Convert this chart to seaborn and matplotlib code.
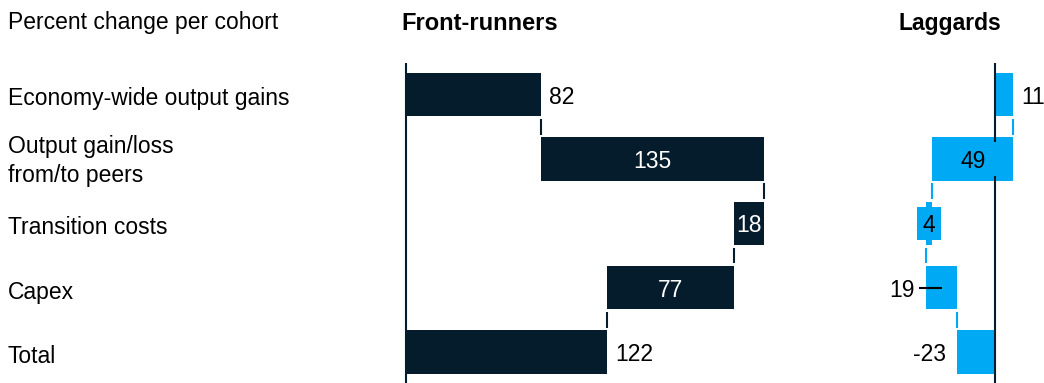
import matplotlib
matplotlib.use("Agg")
import matplotlib.pyplot as plt
import matplotlib.transforms as mtransforms
from matplotlib.patches import Rectangle
import seaborn as sns
import pandas as pd

# ---- data -------------------------------------------------------------
categories = ["Economy-wide output gains", "Output gain/loss\nfrom/to peers",
              "Transition costs", "Capex", "Total"]
front_runners = [82, 135, -18, -77, 122]      # last entry is the total
laggards = [11, -49, -4, 19, -23]             # last entry is the total
front_labels = ["82", "135", "18", "77", "122"]
laggard_labels = ["11", "49", "4", "19", "-23"]

# ---- style ------------------------------------------------------------
DARK = "#051C2C"
CYAN = "#00A9F4"
sns.set_theme(style="white")
plt.rcParams["font.family"] = ["Liberation Sans", "DejaVu Sans"]
FS = 16.5

W_PX, H_PX = 1044, 383
PX_PER_UNIT = 1.65          # horizontal scale shared by both panels
ROW_PX = 64.4               # vertical distance between rows
ROW0_PX = 94.5              # centre of the first row
TOP_PX, BOT_PX = 63, 383
BAR_H = 0.675

fig = plt.figure(figsize=(W_PX / 100, H_PX / 100), dpi=100)


def make_axes(left_px, right_px, zero_px):
    ax = fig.add_axes([left_px / W_PX, 1 - BOT_PX / H_PX,
                       (right_px - left_px) / W_PX, (BOT_PX - TOP_PX) / H_PX])
    ax.set_xlim((left_px - zero_px) / PX_PER_UNIT, (right_px - zero_px) / PX_PER_UNIT)
    return ax


def waterfall(ax, values, labels, color, inside_color, placement):
    starts, ends = [], []
    run = 0
    for v in values[:-1]:
        starts.append(run)
        run += v
        ends.append(run)
    starts.append(0)
    ends.append(values[-1])

    lefts = [min(s, e) for s, e in zip(starts, ends)]
    widths = [abs(e - s) for s, e in zip(starts, ends)]
    df = pd.DataFrame({"category": categories, "width": widths})
    sns.barplot(data=df, x="width", y="category", orient="h", color=color,
                saturation=1, width=BAR_H, linewidth=0, ax=ax, zorder=1)
    for patch, left in zip(ax.patches, lefts):
        patch.set_x(left)

    ax.set_ylim(4 + (BOT_PX - ROW0_PX - 4 * ROW_PX) / ROW_PX,
                (TOP_PX - ROW0_PX) / ROW_PX)
    ax.axvline(0, color=DARK, lw=1.5, zorder=2)

    # connectors between consecutive bars
    for i in range(len(values) - 1):
        x = ends[i]
        ax.plot([x, x], [i + BAR_H / 2 + 0.04, i + 1 - BAR_H / 2 - 0.04],
                color=color, lw=1.5, zorder=2, solid_capstyle="butt")

    gap = 8 / PX_PER_UNIT
    min_box = 14.0
    for i, (lab, pos) in enumerate(zip(labels, placement)):
        lo, hi = lefts[i], lefts[i] + widths[i]
        if pos == "inside":
            mid = (lo + hi) / 2
            bw = max(widths[i], min_box)
            ax.add_patch(Rectangle((mid - bw / 2, i - 0.26), bw, 0.52,
                                   facecolor=color, edgecolor="none", zorder=3))
            ax.text(mid, i, lab, ha="center", va="center_baseline",
                    color=inside_color, fontsize=FS, zorder=4)
        elif pos == "right":
            ax.text(hi + gap, i, lab, ha="left", va="center_baseline",
                    color="black", fontsize=FS)
        elif pos == "left":
            ax.text(lo - gap * 1.35, i, lab, ha="right", va="center_baseline",
                    color="black", fontsize=FS)
        elif pos == "leader":
            x0 = lo - 7 / PX_PER_UNIT
            ax.plot([x0, lo + 16 / PX_PER_UNIT], [i, i], color="black",
                    lw=1.5, zorder=3, solid_capstyle="butt")
            ax.text(x0 - 4 / PX_PER_UNIT, i, lab, ha="right", va="center_baseline",
                    color="black", fontsize=FS)

    ax.set_xlabel("")
    ax.set_ylabel("")
    ax.set_xticks([])
    ax.set_yticks([])
    sns.despine(ax=ax, left=True, bottom=True)
    ax.patch.set_alpha(0)


ax1 = make_axes(396, 800, 406)
waterfall(ax1, front_runners, front_labels, DARK, "white",
          ["right", "inside", "inside", "inside", "right"])

ax2 = make_axes(870, 1044, 995)
waterfall(ax2, laggards, laggard_labels, CYAN, "black",
          ["right", "inside", "inside", "leader", "left"])

# category labels down the left edge
trans = mtransforms.blended_transform_factory(fig.transFigure, ax1.transData)
for i, cat in enumerate(categories):
    ax1.text(8 / W_PX, i + 0.03, cat, transform=trans, ha="left",
             va="center_baseline" if "\n" not in cat else "center",
             fontsize=FS, color="black", linespacing=1.35)

# headers
fig.text(8 / W_PX, 1 - 20 / H_PX, "Percent change per cohort", ha="left",
         va="center_baseline", fontsize=FS, color="black")
fig.text(401 / W_PX, 1 - 21 / H_PX, "Front-runners", ha="left",
         va="center_baseline", fontsize=FS + 0.5, fontweight="bold", color="black")
fig.text(1001 / W_PX, 1 - 21 / H_PX, "Laggards", ha="right",
         va="center_baseline", fontsize=FS, fontweight="bold", color="black")

fig.savefig("out.png", dpi=100, facecolor="white")
